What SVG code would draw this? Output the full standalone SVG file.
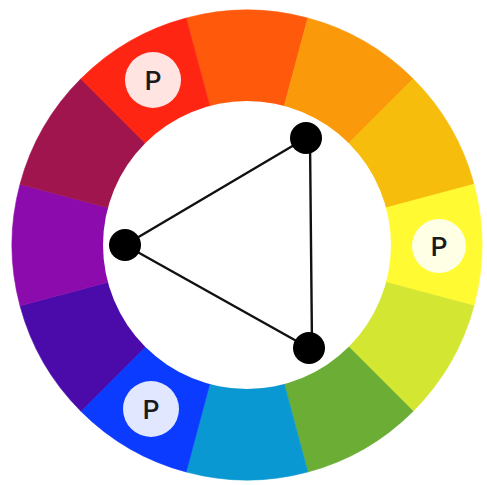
<svg xmlns="http://www.w3.org/2000/svg" width="487" height="485" viewBox="0 0 487 485">
<style>
.p{fill:#fff;fill-opacity:.88}
.pt{font-family:Roboto,"Liberation Sans",Arial,sans-serif;font-weight:500;font-size:26px;fill:#1a1a1a;text-anchor:middle}
.dot{fill:#000}
.edge{stroke:#111;stroke-width:2.4;fill:none;stroke-linecap:round}
#wheel path{stroke-width:0.6}
</style>
<rect width="487" height="485" fill="#fff"/>
<g id="wheel">
<path d="M247 245L186.18 18.01A235 235 0 0 1 307.82 18.01Z" fill="#FF5A0C" stroke="#FF5A0C"/>
<path d="M247 245L307.82 18.01A235 235 0 0 1 413.17 78.83Z" fill="#FA9A0A" stroke="#FA9A0A"/>
<path d="M247 245L413.17 78.83A235 235 0 0 1 473.99 184.18Z" fill="#F7BD0C" stroke="#F7BD0C"/>
<path d="M247 245L473.99 184.18A235 235 0 0 1 473.99 305.82Z" fill="#FFFA32" stroke="#FFFA32"/>
<path d="M247 245L473.99 305.82A235 235 0 0 1 413.17 411.17Z" fill="#D3E632" stroke="#D3E632"/>
<path d="M247 245L413.17 411.17A235 235 0 0 1 307.82 471.99Z" fill="#6BAD35" stroke="#6BAD35"/>
<path d="M247 245L307.82 471.99A235 235 0 0 1 186.18 471.99Z" fill="#0A98D2" stroke="#0A98D2"/>
<path d="M247 245L186.18 471.99A235 235 0 0 1 80.83 411.17Z" fill="#0B3BFF" stroke="#0B3BFF"/>
<path d="M247 245L80.83 411.17A235 235 0 0 1 20.01 305.82Z" fill="#4B0BAA" stroke="#4B0BAA"/>
<path d="M247 245L20.01 305.82A235 235 0 0 1 20.01 184.18Z" fill="#8B0BAD" stroke="#8B0BAD"/>
<path d="M247 245L20.01 184.18A235 235 0 0 1 80.83 78.83Z" fill="#A0154E" stroke="#A0154E"/>
<path d="M247 245L80.83 78.83A235 235 0 0 1 186.18 18.01Z" fill="#FF2513" stroke="#FF2513"/>
<circle cx="247" cy="245" r="144" fill="#fff"/>
</g>
<g id="p-red"><circle class="p" cx="153" cy="80" r="28"/><text class="pt" x="153" y="89.5">P</text></g>
<g id="p-yellow"><circle class="p" cx="439" cy="246" r="27"/><text class="pt" x="439" y="255.5">P</text></g>
<g id="p-blue"><circle class="p" cx="151" cy="409" r="28"/><text class="pt" x="151" y="418.5">P</text></g>
<g id="connectors">
<line class="edge" x1="125" y1="245" x2="306" y2="138"/>
<line class="edge" x1="125" y1="245" x2="309" y2="348"/>
<line class="edge" x1="310" y1="140" x2="312" y2="347"/>
</g>
<g id="dot-top"><circle class="dot" cx="306" cy="138" r="16"/></g>
<g id="dot-left"><circle class="dot" cx="125" cy="245" r="16"/></g>
<g id="dot-bottom"><circle class="dot" cx="309" cy="348" r="16"/></g>
</svg>
